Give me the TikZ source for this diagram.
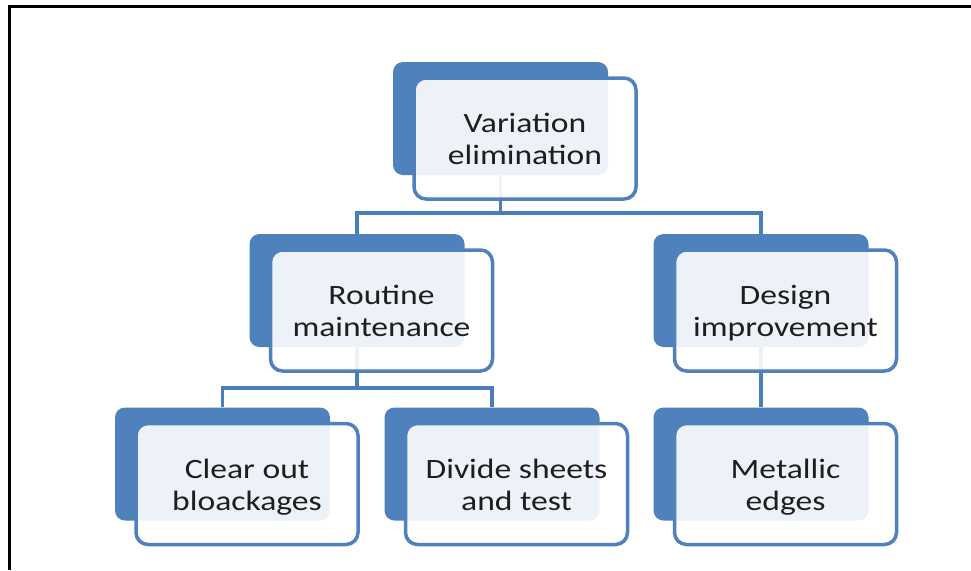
\documentclass[tikz,border=0pt]{standalone}
\usepackage{fontspec}
\setmainfont{Carlito}[FakeStretch=1.2]
\usetikzlibrary{positioning}
\definecolor{darkbox}{HTML}{4F81BD}
\definecolor{linkc}{HTML}{4A7EBB}
\definecolor{txtc}{HTML}{1E1E1E}
\newcommand{\twolines}[2]{\rule{0pt}{30pt}#1\\\strut #2}
\begin{document}
\begin{tikzpicture}[x=1pt,y=-1pt,
  backbox/.style={rectangle,rounded corners=10pt,fill=darkbox,draw=none,
    minimum width=215pt,minimum height=113pt,inner sep=0pt},
  frontbox/.style={rectangle,rounded corners=12pt,draw=darkbox,line width=3.5pt,
    fill=white,fill opacity=0.9,text opacity=1,draw opacity=1,
    minimum width=222pt,minimum height=121pt,inner sep=0pt,
    align=center,text=txtc,font=\fontsize{28}{32}\selectfont},
  link/.style={draw=linkc,line width=3.5pt}]
\useasboundingbox (0,0) rectangle (971,570);
\fill[white] (0,0) rectangle (971,570);
% frame
\draw[line width=3.5pt,black] (9.5,570) -- (9.5,6.5) -- (971,6.5);
% back boxes
\node[backbox] (topd) at (500.5,118.5) {};
\node[backbox] (routd) at (357,290.5) {};
\node[backbox] (desd) at (761,290.5) {};
\node[backbox] (cleard) at (222.5,464) {};
\node[backbox] (divd) at (492,464) {};
\node[backbox] (metd) at (761,464) {};
% connectors
\coordinate (j1) at (500.5,213);
\coordinate (j2) at (357,388);
\draw[link] (topd.south) -- (j1);
\draw[link] (routd.north) |- (j1) -| (desd.north);
\draw[link] (routd.south) -- (j2);
\draw[link] (cleard.north) |- (j2) -| (divd.north);
\draw[link] (desd.south) -- (metd.north);
% front boxes
\node[frontbox] (topw) at (525,138.5) {\twolines{Variation}{elimination}};
\node[frontbox] (routw) at (381.5,310.5) {\twolines{Routine}{maintenance}};
\node[frontbox] (desw) at (785.5,310.5) {\twolines{Design}{improvement}};
\node[frontbox] (clearw) at (247,484) {\twolines{Clear out}{bloackages}};
\node[frontbox] (divw) at (516.5,484) {\twolines{Divide sheets}{and test}};
\node[frontbox] (metw) at (785.5,484) {\twolines{Metallic}{edges}};
\end{tikzpicture}
\end{document}
